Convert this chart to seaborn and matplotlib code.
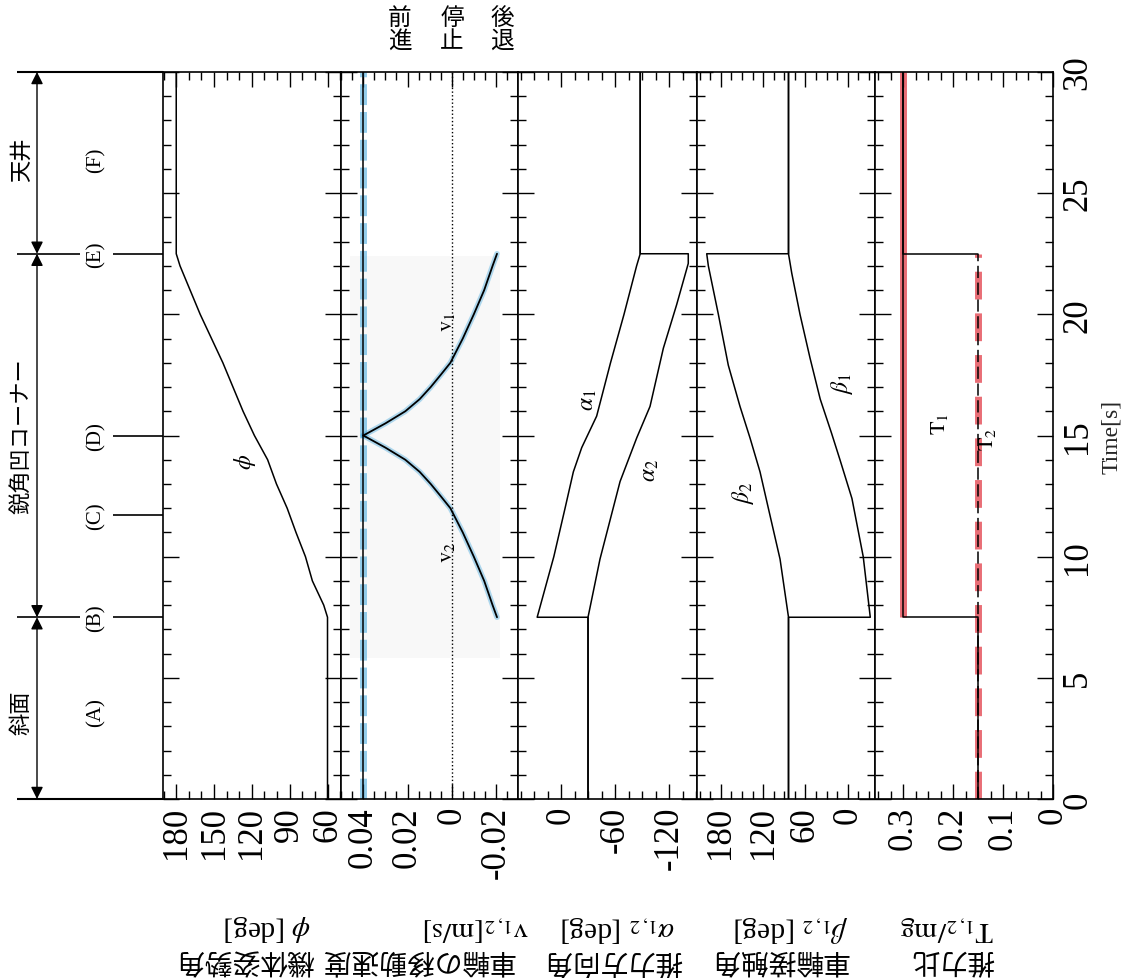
import matplotlib
matplotlib.use("Agg")
import matplotlib.pyplot as plt
import seaborn as sns
from matplotlib.ticker import MultipleLocator

# dati (tempo in s)
t_phi = [0, 7.5, 8, 9, 10, 11, 12, 13, 14, 15, 16, 17, 18, 19, 20, 21, 22, 22.5, 30]
phi   = [60, 60, 63, 72, 77.5, 85, 92, 100.5, 107.5, 118, 127, 135, 143, 152, 161, 169, 177, 180, 180]

t_v0 = [0, 30]
v0   = [0.04, 0.04]
t_v1 = [15, 15.5, 16, 16.5, 17, 17.5, 18, 19, 20, 21, 22, 22.5]
v1   = [0.04, 0.030, 0.021, 0.0145, 0.0095, 0.005, 0.0006, -0.005, -0.010, -0.0147, -0.0185, -0.0205]
t_v2 = [7.5, 8, 9, 10, 11, 12, 12.5, 13, 13.5, 14, 14.5, 15]
v2   = [-0.0205, -0.0185, -0.0147, -0.010, -0.005, 0.0006, 0.005, 0.0095, 0.0145, 0.021, 0.030, 0.04]

t_a1 = [0, 7.5, 7.5, 10, 12, 13.5, 14.5, 15.8, 18, 20, 22, 22.5, 30]
a1   = [-30, -30, 26.5, 8, -4.5, -13.7, -23, -39.6, -55, -70, -84, -88, -88]
t_a2 = [0, 7.5, 9.9, 13.1, 14.9, 16.2, 18.6, 20.4, 22.1, 22.5, 22.5, 30]
a2   = [-30, -30, -43.3, -65.6, -84.1, -98.9, -113.7, -128.5, -141.4, -141.4, -88, -88]

t_b1 = [0, 7.5, 7.5, 10, 12.4, 14, 15.1, 16.5, 18.2, 20, 21.7, 22.5, 30]
b1   = [84, 84, -32, -22, -6, 11, 23, 39, 53.5, 67.7, 79.4, 84, 84]
t_b2 = [0, 7.5, 9.9, 12, 13.5, 14.9, 16.2, 17.9, 20, 22, 22.5, 22.5, 30]
b2   = [84, 84, 96, 112.6, 124.4, 138.6, 152.8, 169.4, 183.5, 197.7, 200, 84, 84]

t_T1 = [0, 7.5, 7.5, 30]
T1   = [0.15, 0.15, 0.3, 0.3]
t_T2 = [0, 22.5, 22.5, 30]
T2   = [0.15, 0.15, 0.3, 0.3]

# fasi del percorso
fasi_t     = [3.6, 7.5, 11.7, 15, 22.5, 26.4]
fasi_label = ["(A)", "(B)", "(C)", "(D)", "(E)", "(F)"]
tratti     = [(0, 7.5, 3.6, "斜面"), (7.5, 22.5, 15, "鋭角凹コーナー"), (22.5, 30, 26.4, "天井")]

sns.set_theme(style="ticks")
plt.rcParams["font.family"] = ["Liberation Serif", "Noto Sans CJK JP"]
plt.rcParams["mathtext.fontset"] = "stix"
plt.rcParams["axes.edgecolor"] = "black"
plt.rcParams["axes.linewidth"] = 1.2
plt.rcParams["xtick.color"] = "black"
plt.rcParams["ytick.color"] = "black"
plt.rcParams["text.color"] = "black"

W, H = 1144, 979
fig = plt.figure(figsize=(W / 100, H / 100), dpi=100)
fig.patch.set_facecolor("white")

bottom = (H - 800) / H
height = 727 / H
edges = [163, 341, 518, 697, 875, 1053]

pannelli = [
    dict(xlim=(190.5, 49.3), major=[180, 150, 120, 90, 60], labels=["180", "150", "120", "90", "60"], minor=10),
    dict(xlim=(0.0501, -0.0300), major=[0.04, 0.02, 0, -0.02], labels=["0.04", "0.02", "0", "-0.02"], minor=0.005),
    dict(xlim=(47.8, -151.1), major=[0, -60, -120], labels=["0", "-60", "-120"], minor=15),
    dict(xlim=(213.8, -38.7), major=[180, 120, 60, 0], labels=["180", "120", "60", "0"], minor=15),
    dict(xlim=(0.356, 0), major=[0.3, 0.2, 0.1, 0], labels=["0.3", "0.2", "0.1", "0"], minor=0.025),
]

blu = "#3da5dc"
rosso = "#e0303c"
axes = []
for i, p in enumerate(pannelli):
    ax = fig.add_axes([edges[i] / W, bottom, (edges[i + 1] - edges[i]) / W, height])
    ax.set_facecolor("white")
    axes.append(ax)

# pannello 1: angolo phi
ax = axes[0]
sns.lineplot(x=phi, y=t_phi, sort=False, estimator=None, orient="y", color="black", lw=1.1, ax=ax)
ax.text(125.5, 13.95, r"$\phi$", fontsize=17, rotation=90, ha="center", va="center")

# pannello 2: velocità ruote
ax = axes[1]
ax.axhspan(5.8, 22.4, xmin=0.05, xmax=0.9, color="#f8f8f8", zorder=0, lw=0)
ax.axvline(0, ls=":", lw=1, color="black")
ax.plot(v0, t_v0, color=blu, lw=5, alpha=0.55, dashes=(3, 1), zorder=1)
ax.plot(v1, t_v1, color=blu, lw=4, alpha=0.4, zorder=1)
ax.plot(v2, t_v2, color=blu, lw=4, alpha=0.4, zorder=1)
sns.lineplot(x=v0, y=t_v0, sort=False, estimator=None, orient="y", color="black", lw=1.1, ax=ax)
sns.lineplot(x=v1, y=t_v1, sort=False, estimator=None, orient="y", color="black", lw=1.3, ax=ax)
sns.lineplot(x=v2, y=t_v2, sort=False, estimator=None, orient="y", color="black", lw=1.3, ax=ax)
ax.text(0.0017, 19.7, r"$\mathrm{v}_{1}$", fontsize=16, rotation=90, ha="center", va="center")
ax.text(0.0017, 10.2, r"$\mathrm{v}_{2}$", fontsize=16, rotation=90, ha="center", va="center")

# pannello 3: direzione spinta
ax = axes[2]
sns.lineplot(x=a1, y=t_a1, sort=False, estimator=None, orient="y", color="black", lw=1.1, ax=ax)
sns.lineplot(x=a2, y=t_a2, sort=False, estimator=None, orient="y", color="black", lw=1.1, ax=ax)
ax.text(-30, 16.5, r"$\alpha_{1}$", fontsize=17, rotation=90, ha="center", va="center")
ax.text(-98.9, 13.6, r"$\alpha_{2}$", fontsize=17, rotation=90, ha="center", va="center")

# pannello 4: angolo di contatto
ax = axes[3]
sns.lineplot(x=b1, y=t_b1, sort=False, estimator=None, orient="y", color="black", lw=1.1, ax=ax)
sns.lineplot(x=b2, y=t_b2, sort=False, estimator=None, orient="y", color="black", lw=1.1, ax=ax)
ax.text(148.5, 12.7, r"$\beta_{2}$", fontsize=17, rotation=90, ha="center", va="center")
ax.text(8.2, 17.2, r"$\beta_{1}$", fontsize=17, rotation=90, ha="center", va="center")

# pannello 5: rapporto di spinta
# evidenziatore rosso solo sui tratti verticali
ax = axes[4]
ax.plot(T1[2:], t_T1[2:], color=rosso, lw=5, alpha=0.7, zorder=1, solid_capstyle="butt")
ax.plot(T2[:2], t_T2[:2], color=rosso, lw=5, alpha=0.7, zorder=1, dashes=(4, 2))
sns.lineplot(x=T1, y=t_T1, sort=False, estimator=None, orient="y", color="black", lw=1.1, ax=ax)
# T2: tratteggiato finché resta a 0.15, poi linea continua
ax.plot(T2[:2], t_T2[:2], color="black", lw=1.1, dashes=(8, 3), zorder=3)
ax.plot(T2[1:], t_T2[1:], color="black", lw=1.1, zorder=3)
ax.text(0.226, 15.5, r"$\mathrm{T}_{1}$", fontsize=16, rotation=90, ha="center", va="center")
ax.text(0.13, 14.9, r"$\mathrm{T}_{2}$", fontsize=16, rotation=90, ha="center", va="center")

# assi e tacche
for i, (ax, p) in enumerate(zip(axes, pannelli)):
    ax.set_xlim(*p["xlim"])
    ax.set_ylim(0, 30)
    ax.set_xlabel("")
    ax.set_ylabel("")
    ax.set_xticks(p["major"], labels=p["labels"])
    ax.xaxis.set_minor_locator(MultipleLocator(p["minor"]))
    ax.yaxis.set_major_locator(MultipleLocator(5))
    ax.yaxis.set_minor_locator(MultipleLocator(1))
    ax.tick_params(axis="x", which="both", direction="in", top=True, bottom=True, width=1)
    ax.tick_params(axis="x", which="major", length=11, labelsize=25, labelrotation=90, pad=5)
    ax.tick_params(axis="x", which="minor", length=5.5)
    ax.tick_params(axis="y", which="both", direction="in", left=True, right=True,
                   labelleft=False, labelright=(i == 4), width=1)
    ax.tick_params(axis="y", which="major", length=11.5)
    ax.tick_params(axis="y", which="minor", length=5.5)
    for s in ax.spines.values():
        s.set_visible(True)
        s.set_color("black")

ax = axes[4]
ax.tick_params(axis="y", which="major", labelsize=25, labelrotation=90, pad=6)
for lbl in ax.get_yticklabels():
    lbl.set_va("center")
ax.yaxis.set_label_position("right")
ax.set_ylabel("Time[s]", fontsize=17, rotation=90, va="center", ha="center")
ax.yaxis.set_label_coords(1.33, 0.5)

# etichette degli assi (capovolte come nella scansione)
etichette = [
    (311, r"$\phi$ [deg]", 314, "機体姿勢角"),
    (529, r"$\mathrm{v}_{1,2}\mathrm{[m/s]}$", 514, "車輪の移動速度"),
    (675, r"$\alpha_{1,2}$ [deg]", 682, "推力方向角"),
    (848, r"$\beta_{1,2}$ [deg]", 848, "車輪接触角"),
    (994, r"$\mathrm{T}_{1,2}\mathrm{/mg}$", 994, "推力比"),
]
for xs, sym, xj, jp in etichette:
    fig.text(xs / W, 1 - 928 / H, sym, fontsize=21, rotation=180, ha="right", va="center")
    fig.text(xj / W, 1 - 960 / H, jp, fontsize=20, rotation=180, ha="right", va="center",
             family="Noto Sans CJK JP")

# intestazione direzione
for x, s in [(400, "前\n進"), (452, "停\n止"), (502, "後\n退")]:
    fig.text(x / W, 1 - 30 / H, s, fontsize=17, ha="center", va="center", linespacing=1.0,
             family="Noto Sans CJK JP")

# striscia sinistra con le fasi
axs = fig.add_axes([10 / W, bottom, 153 / W, height])
axs.set_xlim(10, 163)
axs.set_ylim(0, 30)
axs.axis("off")
axs.hlines([0, 30], 17, 163, color="black", lw=1.5, clip_on=False)
axs.hlines([7.5, 22.5], 17, 80, color="black", lw=1.2, clip_on=False)
axs.hlines([7.5, 11.7, 15, 22.5], 113, 163, color="black", lw=1.2, clip_on=False)
for t, lab in zip(fasi_t, fasi_label):
    axs.text(96, t, lab, fontsize=15, rotation=90, ha="center", va="center")
for t0, t1, tm, nome in tratti:
    axs.annotate("", xy=(37, t0), xytext=(37, t1),
                 arrowprops=dict(arrowstyle="<|-|>", color="black", lw=1,
                                 mutation_scale=18, shrinkA=0, shrinkB=0))
    axs.text(21, tm, nome, fontsize=16, rotation=90, ha="center", va="center",
             family="Noto Sans CJK JP")

plt.savefig("out.png", dpi=100, facecolor="white")
plt.close()
